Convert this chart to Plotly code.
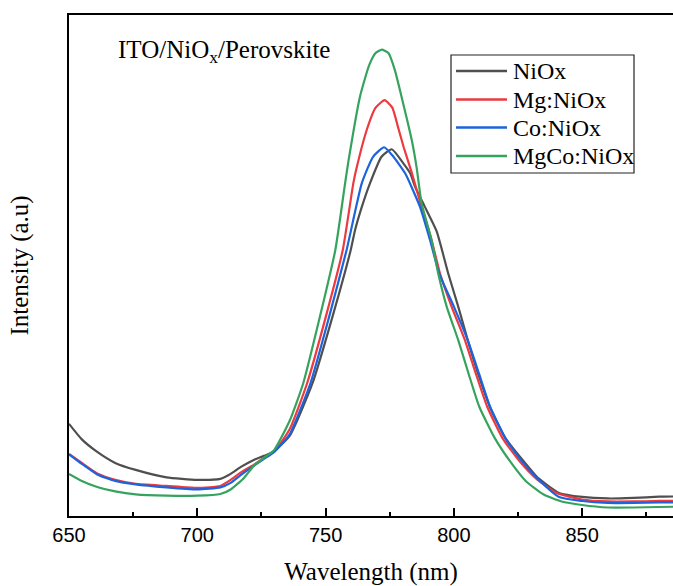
import plotly.graph_objects as go

# NiOx
wl_niox = [650, 655, 661, 668, 676, 688, 700, 709, 713, 717, 722, 726, 729.5, 736,
           744.9, 752.7, 759.8, 761.5, 764, 767.3, 771.8, 775.8, 780.3, 783, 784.9, 788.7,
           793.3, 797.8, 801.7, 805.4, 809.5, 814, 820, 827.1, 833, 841, 850, 860, 870, 880, 886]
int_niox = [18.4, 15.3, 12.8, 10.6, 9.2, 7.7, 7.2, 7.4, 8.4, 9.8, 11.2, 12.0, 12.8, 16.0,
            26.5, 39.8, 53.1, 57.1, 61.5, 66.4, 71.7, 73.2, 70.4, 68.4, 65.7, 61.7,
            56.8, 48.4, 41.8, 35.1, 28.3, 21.8, 15.6, 11.0, 7.5, 4.6, 3.8, 3.5, 3.6, 3.85, 3.9]

# Mg:NiOx
wl_mg = [650, 655, 661, 668, 676, 688, 700, 709, 713, 717, 722, 726, 730, 736,
         742.8, 750.1, 756.7, 760.8, 762.1, 766, 769.5, 773, 776, 778.3, 780.5, 783.6,
         787.4, 791.3, 794.6, 799.1, 804.3, 808.5, 813, 819, 825.8, 832, 840, 850, 860, 870, 880, 886]
int_mg = [12.4, 10.6, 8.5, 7.2, 6.4, 6.0, 5.6, 6.0, 7.2, 8.7, 10.2, 11.6, 12.9, 17.3,
          26.5, 39.8, 53.1, 66.4, 69.5, 77.0, 81.5, 83.0, 81.5, 77.5, 73.5, 68.5,
          61.7, 55.1, 48.4, 41.8, 35.1, 28.5, 21.8, 15.5, 10.8, 7.5, 4.6, 3.3, 2.9, 2.9, 3.0, 3.0]

# Co:NiOx
wl_co = [650, 655, 661, 668, 676, 688, 700, 709, 713, 717, 722, 726, 730, 736,
         744.1, 751.4, 758.2, 764.1, 768.5, 772.8, 776, 781, 786.8, 790.7, 794.3, 800,
         805.4, 809.8, 814.1, 820, 826.4, 832, 841, 850, 860, 870, 880, 886]
int_co = [12.3, 10.4, 8.3, 7.0, 6.3, 5.7, 5.3, 5.7, 6.6, 8.2, 10.0, 11.4, 12.8, 16.3,
          26.5, 39.8, 53.1, 66.4, 71.7, 73.6, 72.0, 68.4, 61.7, 55.1, 48.4, 41.8,
          35.1, 28.4, 21.8, 15.6, 11.0, 7.8, 3.8, 3.0, 2.6, 2.6, 2.7, 2.7]

# MgCo:NiOx
wl_mgco = [650, 655, 661, 668, 676, 688, 700, 709, 713, 718, 722, 726, 730, 736,
           741.3, 747.8, 753.8, 757.6, 758.8, 763.4, 767, 769.5, 771.9, 774.5, 777, 779.6, 783.6,
           785.5, 787.4, 791.3, 793.9, 797.2, 801.7, 805.8, 809.9, 816, 822.5, 828, 835, 842,
           850, 860, 870, 880, 886]
int_mgco = [8.4, 7.0, 5.8, 4.9, 4.3, 4.05, 4.05, 4.4, 5.3, 7.5, 10.0, 11.6, 13.2, 19.0,
            26.5, 39.8, 53.1, 66.4, 70.5, 83.7, 90.0, 92.4, 93.1, 92.4, 89.0, 83.7, 75.0,
            69.5, 62.5, 55.1, 48.4, 41.8, 35.1, 28.3, 21.8, 15.5, 10.5, 7.0, 4.3, 2.9,
            2.2, 1.7, 1.7, 1.8, 1.85]

series_names = ["NiOx", "Mg:NiOx", "Co:NiOx", "MgCo:NiOx"]
series_x = [wl_niox, wl_mg, wl_co, wl_mgco]
series_y = [int_niox, int_mg, int_co, int_mgco]
colors = ["#4f4f4f", "#ec3a3e", "#1d63dc", "#35a35e"]

x_ticks = [650, 700, 750, 800, 850]

fig = go.Figure()
for name, xs, ys, c in zip(series_names, series_x, series_y, colors):
    fig.add_trace(go.Scatter(x=xs, y=ys, mode="lines", name=name, showlegend=False,
                             line=dict(color=c, width=2.2, shape="spline", smoothing=0.5)))

# legend drawn in paper coordinates (plot area: 604 x 501 px)
PW, PH = 604.0, 501.0
def px(x):
    return (x - 69) / PW
def py(y):
    return (516 - y) / PH

shapes = [dict(type="rect", xref="paper", yref="paper",
               x0=px(451), x1=px(634), y0=py(173), y1=py(55),
               line=dict(color="#222", width=1.2), fillcolor="white", layer="above")]
annotations = [dict(text="ITO/NiO<sub>x</sub>/Perovskite", xref="paper", yref="paper",
                    x=px(116), y=py(52), xanchor="left", yanchor="middle", showarrow=False,
                    font=dict(family="Liberation Serif", size=25, color="black"))]
row_y = [71, 99.5, 127.5, 156]
for name, c, ry in zip(series_names, colors, row_y):
    shapes.append(dict(type="line", xref="paper", yref="paper",
                       x0=px(456), x1=px(507), y0=py(ry), y1=py(ry),
                       line=dict(color=c, width=2.5), layer="above"))
    annotations.append(dict(text=name, xref="paper", yref="paper",
                            x=px(511), y=py(ry), xanchor="left", yanchor="middle",
                            showarrow=False,
                            font=dict(family="Liberation Serif", size=24, color="black")))

fig.update_layout(
    width=673, height=586,
    margin=dict(l=69, r=0, t=15, b=70),
    plot_bgcolor="white", paper_bgcolor="white",
    showlegend=False,
    shapes=shapes,
    annotations=annotations,
)
fig.update_xaxes(
    range=[650, 885.4], tickvals=x_ticks, ticktext=[str(v) for v in x_ticks],
    ticks="inside", ticklen=8, tickwidth=1.5, tickcolor="black",
    minor=dict(ticks="inside", ticklen=4, tickwidth=1.5, tickcolor="black", dtick=25, tick0=650),
    showline=True, linecolor="black", linewidth=1.5, mirror=True,
    showgrid=False, zeroline=False,
    tickfont=dict(family="Liberation Sans", size=20, color="black"),
    title=dict(text="Wavelength (nm)", standoff=22,
               font=dict(family="Liberation Serif", size=25, color="black")),
)
fig.update_yaxes(
    range=[0, 100], showticklabels=False, ticks="",
    showline=True, linecolor="black", linewidth=1.5, mirror=False,
    showgrid=False, zeroline=False,
    title=dict(text="Intensity (a.u)", standoff=32,
               font=dict(family="Liberation Serif", size=25, color="black")),
)

fig.write_html("out.html")
